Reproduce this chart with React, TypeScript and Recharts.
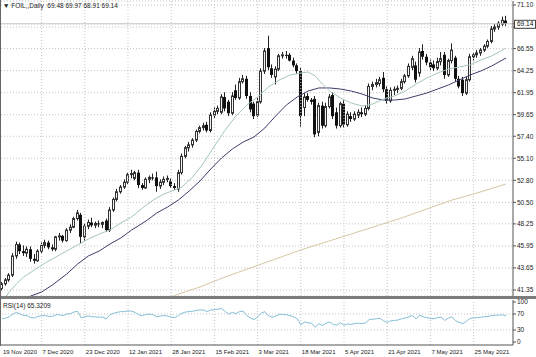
import React from 'react';
import { ComposedChart, Bar, Line, XAxis, YAxis, CartesianGrid, ReferenceLine } from 'recharts';

const openP = [41.5,42.0,42.4,42.9,44.9,46.1,45.4,45.2,45.6,44.6,44.4,45.4,46.0,46.3,45.8,45.6,46.9,47.0,46.5,47.6,47.9,48.8,49.2,46.9,48.0,48.4,48.1,48.3,48.2,48.6,47.6,49.7,50.8,51.6,52.1,52.6,53.4,53.0,53.6,52.3,52.0,52.9,53.1,53.1,52.2,52.6,52.9,52.7,52.2,51.9,53.6,55.3,56.2,56.5,57.0,57.9,58.3,58.6,58.0,59.6,60.0,59.9,61.5,61.0,59.8,62.2,61.4,63.1,63.4,61.6,60.8,59.6,61.0,64.2,66.6,64.5,63.6,64.4,65.8,65.9,65.9,65.3,64.8,64.2,60.4,61.6,61.2,61.3,57.8,60.6,58.5,60.5,61.7,59.9,58.5,60.8,58.6,59.5,59.2,59.6,59.9,59.7,60.3,62.6,62.8,62.9,63.5,62.3,61.1,62.2,62.3,62.4,63.1,63.7,64.6,64.8,64.0,66.3,65.7,65.1,64.9,64.5,65.2,65.9,63.8,65.3,65.6,63.4,63.3,61.9,63.3,65.7,65.9,66.1,66.4,66.8,67.3,68.6,68.8,69.1,69.48];
const highP = [42.2,42.6,43.1,45.2,46.4,46.3,46.0,45.9,45.9,45.1,45.6,46.3,46.6,46.5,46.1,47.0,47.3,47.1,47.8,48.2,49.0,49.7,49.4,48.3,48.7,48.9,48.5,48.6,48.5,48.8,50.0,51.0,51.9,52.3,52.9,53.6,53.9,53.8,53.9,52.5,53.1,53.3,53.5,53.7,52.9,53.2,53.3,53.0,52.5,53.9,55.6,56.4,56.8,57.2,58.1,58.5,58.8,58.9,59.9,60.4,60.6,61.8,62.0,61.2,62.0,62.8,63.5,63.8,63.7,62.0,61.0,61.4,64.5,66.6,67.9,64.9,64.7,66.0,66.2,66.3,66.1,65.6,65.0,64.6,61.9,61.9,61.4,61.6,60.9,61.0,60.9,61.8,62.0,60.4,61.0,61.2,60.0,59.9,60.0,60.2,60.4,60.6,62.9,63.1,63.4,63.6,64.1,62.6,62.5,62.6,62.7,63.4,63.9,65.0,65.8,65.2,66.6,67.0,66.0,65.4,65.3,65.6,66.2,66.2,65.5,67.1,65.8,63.7,63.6,63.6,66.0,66.1,66.4,66.6,67.0,67.5,68.9,69.1,69.4,69.9,69.97];
const lowP = [41.3,41.8,42.2,42.7,44.6,45.1,44.9,44.8,44.3,44.1,44.3,45.2,45.7,45.6,45.4,45.4,46.5,46.3,46.4,47.3,47.8,48.6,46.2,46.5,47.7,47.9,47.8,47.9,47.8,47.4,47.4,49.5,50.6,51.4,51.9,52.4,53.0,52.8,52.0,51.8,51.9,52.5,52.8,51.6,51.9,52.3,52.6,52.0,51.8,51.6,53.4,55.1,55.8,56.2,56.8,57.7,58.0,57.8,57.8,59.3,59.7,59.7,60.0,59.5,59.6,61.2,61.2,62.9,61.3,59.9,59.2,59.4,60.8,63.9,64.3,63.5,62.8,64.2,65.5,65.5,65.2,64.6,63.9,58.4,59.5,61.0,60.7,57.3,57.4,58.2,58.3,60.3,59.2,58.2,58.3,58.3,58.4,58.9,59.0,59.3,59.4,59.5,60.1,62.2,62.5,62.6,62.0,60.8,60.9,61.7,61.9,62.2,62.9,63.5,64.3,63.0,63.6,65.4,64.8,64.2,64.2,64.3,64.8,63.4,63.6,65.0,63.1,62.4,61.6,61.7,63.1,65.3,65.6,65.8,66.2,66.6,67.1,68.3,68.5,68.9,68.91];
const closeP = [42.0,42.4,42.9,44.9,46.1,45.4,45.2,45.6,44.6,44.4,45.4,46.0,46.3,45.8,45.6,46.9,47.0,46.5,47.6,47.9,48.8,49.4,46.9,48.0,48.4,48.1,48.3,48.2,48.4,47.6,49.7,50.8,51.6,52.1,52.6,53.4,53.5,53.6,52.3,52.0,52.9,53.1,53.0,52.2,52.6,52.9,53.0,52.2,52.0,53.6,55.3,56.2,56.5,57.0,57.9,58.3,58.5,58.0,59.6,60.0,60.3,61.5,60.3,59.8,61.6,61.4,63.1,63.4,61.6,60.2,59.5,61.0,64.2,66.3,64.6,63.8,64.4,65.8,65.9,65.8,65.3,64.8,64.2,59.5,61.5,61.2,61.0,57.6,60.6,58.5,60.5,61.5,59.5,58.5,60.8,58.6,59.7,59.2,59.7,59.9,59.7,60.3,62.6,62.8,63.0,63.3,62.3,61.1,62.2,62.3,62.4,63.1,63.7,64.7,65.5,63.3,66.2,65.7,65.1,64.6,64.5,65.2,65.5,63.8,65.3,66.4,63.4,62.6,61.9,63.3,65.7,65.9,66.1,66.4,66.8,67.3,68.6,68.8,69.2,69.5,69.14];

const rsiVals = [58,60,63,70,74,70,66,66,61,60,64,66,66,64,64,68,68,66,70,71,75,77,60,64,65,63,63,62,62,58,68,72,74,76,76,78,77,74,68,66,69,70,68,63,65,66,65,62,61,66,72,75,76,77,79,80,80,76,80,81,82,84,76,70,74,71,76,77,66,60,56,63,72,76,66,62,65,69,69,68,66,63,58,43,50,48,47,37,46,41,47,50,44,42,48,42,45,44,46,47,46,48,56,57,58,59,53,49,53,54,55,58,60,63,66,58,67,63,61,59,58,61,62,54,60,63,53,49,46,52,59,60,61,62,63,64,66,67,67,68,65.32];

const maFastIdx = [1,2,4,6,9,12,15,18,21,24,27,30,33,36,39,42,45,48,50,53,56,59,62,65,68,71,74,77,80,83,85,87,89,91,94,97,100,103,106,109,112,115,118,121,124,127,130,133,136,140];
const maFastVals = [40.6,41.14,41.98,42.71,43.44,44.17,44.8,45.42,46.05,46.67,47.19,47.61,48.34,48.97,49.91,50.74,51.37,51.79,52.1,53.15,54.61,56.38,58.05,59.51,60.66,61.5,62.54,63.27,63.79,64.0,64.11,63.69,62.85,62.12,61.39,60.87,60.56,60.77,61.29,61.6,62.12,62.85,63.48,64.0,64.42,64.63,64.84,65.36,65.78,66.61];
const maSlowIdx = [6,8,11,14,18,21,24,27,30,33,36,40,43,46,49,52,55,58,61,64,67,70,73,76,79,82,85,88,91,94,97,100,103,106,109,112,115,118,121,124,127,130,133,136,140];
const maSlowVals = [40.41,40.72,41.14,41.87,43.02,44.06,44.9,45.42,46.15,46.78,47.61,48.55,49.39,50.01,50.74,51.68,52.73,53.98,55.13,56.07,56.8,57.32,58.26,59.51,60.66,61.5,62.12,62.44,62.44,62.33,62.12,61.81,61.39,61.18,61.18,61.29,61.6,61.91,62.33,62.75,63.27,63.79,64.21,64.73,65.57];
const ma200Idx = [47,50,55,62,69,76,83,90,97,104,111,118,125,132,140];
const ma200Vals = [40.62,41.04,41.66,42.71,43.65,44.59,45.53,46.36,47.19,48.03,48.87,49.81,50.74,51.48,52.42];

const dateTickIdx = [0,11,23,35,47,59,71,83,95,107,119,131];
const dateTickLabels = ['19 Nov 2020','7 Dec 2020','23 Dec 2020','12 Jan 2021','28 Jan 2021','15 Feb 2021','3 Mar 2021','18 Mar 2021','5 Apr 2021','21 Apr 2021','7 May 2021','25 May 2021'];
const priceTicks = [71.10,68.80,66.55,64.25,61.95,59.65,57.40,55.10,52.80,50.50,48.25,45.95,43.65,41.35];
const rsiTicks = [100,70,30,0];
const rsiLevels = [70,30];
const lastPrice = 69.14;
const headerText = 'FOIL,,Daily  69.48 69.97 68.91 69.14';
const rsiText = 'RSI(14) 65.3209';

const pick = (idx: number[], vals: number[], i: number) => {
  const k = idx.indexOf(i);
  return k >= 0 ? vals[k] : null;
};

const data = openP.map((o, i) => ({
  i,
  o,
  h: highP[i],
  l: lowP[i],
  c: closeP[i],
  range: [lowP[i], highP[i]],
  fast: pick(maFastIdx, maFastVals, i),
  slow: pick(maSlowIdx, maSlowVals, i),
  ma200: pick(ma200Idx, ma200Vals, i),
  rsi: rsiVals[i],
}));

const FONT = '"Liberation Sans", Arial, sans-serif';
const GRID = '#c4c4c4';
const XDOM: [number, number] = [-0.28, 141.94];

const Candle = (props: any) => {
  const { x, y, width, height, payload } = props;
  if (x == null || y == null) return null;
  const top = Math.min(y, y + height);
  const bot = Math.max(y, y + height);
  const { o, h, l, c } = payload;
  const pix = (p: number) => top + ((h - p) / (h - l)) * (bot - top);
  const cx = Math.floor(x + width / 2);
  const bull = c >= o;
  const bt = pix(Math.max(o, c));
  const bb = pix(Math.min(o, c));
  const bh = Math.max(1, bb - bt);
  return (
    <g>
      <line x1={cx + 0.5} x2={cx + 0.5} y1={top} y2={bot} stroke="#222" strokeWidth={1} />
      {bull ? (
        <rect x={cx - 0.5} y={bt} width={2} height={bh} fill="#f4f4f4" stroke="#333" strokeWidth={1} />
      ) : (
        <rect x={cx - 1} y={bt} width={3} height={bh} fill="#111" />
      )}
    </g>
  );
};

const PriceTick = (props: any) => {
  const { x, y, payload } = props;
  const v = Number(payload.value);
  if (v === lastPrice) {
    return (
      <g>
        <rect x={x - 2.5} y={y - 3.5} width={21} height={8} fill="#ffffff" stroke="#444" strokeWidth={1} />
        <text x={x} y={y} dy={2.3} fontSize={6.5} fontFamily={FONT} fill="#111" textAnchor="start">
          {v.toFixed(2)}
        </text>
      </g>
    );
  }
  return (
    <text x={x} y={y} dy={2.3} fontSize={6.5} fontFamily={FONT} fill="#222" textAnchor="start">
      {v.toFixed(2)}
    </text>
  );
};

const RsiTick = (props: any) => {
  const { x, y, payload } = props;
  return (
    <text x={x} y={y} dy={2.3} fontSize={6.5} fontFamily={FONT} fill="#222" textAnchor="start">
      {payload.value}
    </text>
  );
};

const DateTick = (props: any) => {
  const { x, y, payload } = props;
  const k = dateTickIdx.indexOf(payload.value);
  return (
    <text x={x + 1} y={y} dy={8.5} fontSize={6} fontFamily={FONT} fill="#222" textAnchor="start">
      {k >= 0 ? dateTickLabels[k] : ''}
    </text>
  );
};

export default function App() {
  return (
    <div style={{ position: 'absolute', left: 0, top: 0, width: 536, height: 357, background: '#fff', overflow: 'hidden' }}>
      <div style={{ position: 'absolute', left: 0, top: 0 }}>
        <ComposedChart width={536} height={297} data={data} margin={{ top: 1, right: 0, bottom: 1, left: 1 }}>
          <CartesianGrid vertical={false} stroke={GRID} strokeDasharray="1 2" />
          <XAxis dataKey="i" type="number" domain={XDOM} hide allowDataOverflow />
          <YAxis
            orientation="right"
            width={23}
            domain={[40.72, 71.52]}
            ticks={[...priceTicks, lastPrice]}
            allowDataOverflow
            interval={0}
            tick={<PriceTick />}
            tickSize={3}
            tickMargin={1}
            axisLine={{ stroke: '#555' }}
            tickLine={{ stroke: '#555' }}
          />
          {dateTickIdx.slice(1).map((t) => (
            <ReferenceLine key={t} x={t} stroke={GRID} strokeDasharray="1 2" />
          ))}
          <ReferenceLine y={lastPrice} stroke="#c8c8c8" />
          <Line dataKey="ma200" stroke="#d8c6a6" dot={false} connectNulls isAnimationActive={false} strokeWidth={1} />
          <Line dataKey="slow" stroke="#3e3d6c" dot={false} connectNulls isAnimationActive={false} strokeWidth={1} />
          <Line dataKey="fast" stroke="#a6c6bb" dot={false} connectNulls isAnimationActive={false} strokeWidth={1} />
          <Bar dataKey="range" barSize={3} shape={<Candle />} isAnimationActive={false} />
        </ComposedChart>
      </div>
      <div style={{ position: 'absolute', left: 0, top: 296, width: 536, height: 3, background: '#7c7c7c' }} />
      <div style={{ position: 'absolute', left: 0, top: 299 }}>
        <ComposedChart width={536} height={58} data={data} margin={{ top: 1, right: 0, bottom: 0, left: 1 }}>
          <XAxis
            dataKey="i"
            type="number"
            domain={XDOM}
            ticks={dateTickIdx}
            interval={0}
            allowDataOverflow
            height={12}
            tick={<DateTick />}
            tickSize={0}
            tickMargin={0}
            axisLine={{ stroke: '#555' }}
            tickLine={false}
          />
          <YAxis
            orientation="right"
            width={23}
            domain={[-7.5, 105]}
            ticks={rsiTicks}
            allowDataOverflow
            interval={0}
            tick={<RsiTick />}
            tickSize={3}
            tickMargin={1}
            axisLine={{ stroke: '#555' }}
            tickLine={{ stroke: '#555' }}
          />
          {dateTickIdx.slice(1).map((t) => (
            <ReferenceLine key={t} x={t} stroke={GRID} strokeDasharray="1 2" />
          ))}
          {rsiLevels.map((v) => (
            <ReferenceLine key={v} y={v} stroke={GRID} strokeDasharray="1 2" />
          ))}
          <Line dataKey="rsi" stroke="#86bfd6" dot={false} isAnimationActive={false} strokeWidth={1} />
        </ComposedChart>
      </div>
      <div style={{ position: 'absolute', left: 0, top: 0, width: 1, height: 346, background: '#666' }} />
      <div style={{ position: 'absolute', left: 3, top: 1, fontFamily: FONT, fontSize: 6.5, color: '#222', whiteSpace: 'pre', lineHeight: '9px' }}>
        {'\u25BC ' + headerText}
      </div>
      <div style={{ position: 'absolute', left: 3, top: 301, fontFamily: FONT, fontSize: 6.5, color: '#222', whiteSpace: 'pre', lineHeight: '9px' }}>
        {rsiText}
      </div>
    </div>
  );
}
